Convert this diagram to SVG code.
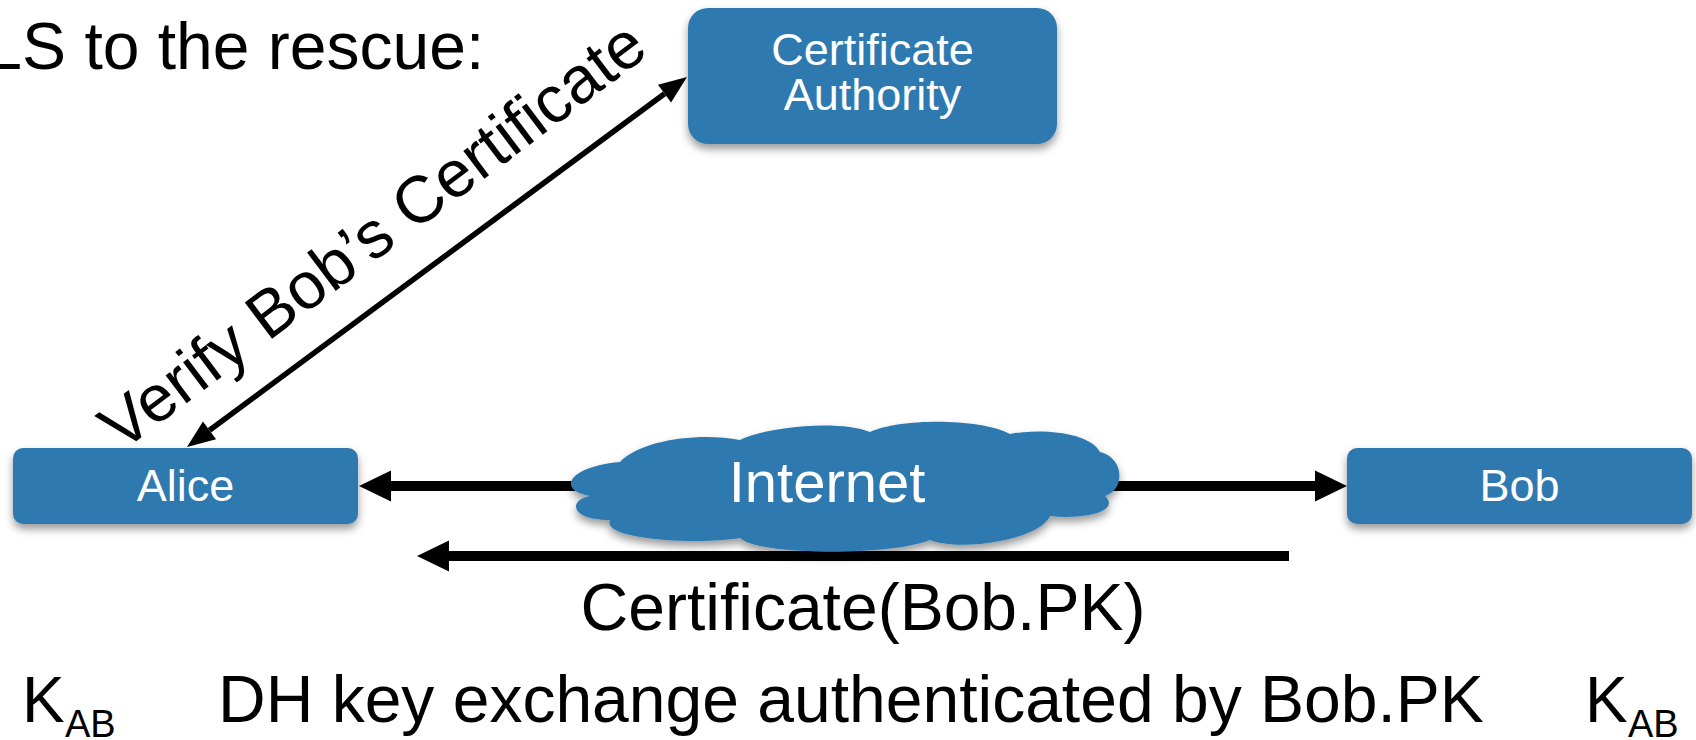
<svg xmlns="http://www.w3.org/2000/svg" width="1696" height="740" viewBox="0 0 1696 740">
  <style>
    .box { fill: #2e7ab0; filter: url(#shadow); }
    .wt { fill: #ffffff; font-family: "Liberation Sans", Arial, sans-serif; font-size: 45px; text-anchor: middle; }
    .bt { fill: #000000; font-family: "Liberation Sans", Arial, sans-serif; font-size: 66px; }
    .thick { fill: none; stroke: #000; stroke-width: 10; }
    .thin { fill: none; stroke: #000; stroke-width: 5.5; }
  </style>
  <defs>
    <filter id="shadow" x="-10%" y="-20%" width="120%" height="150%">
      <feDropShadow dx="0" dy="5" stdDeviation="4" flood-color="#000" flood-opacity="0.4"/>
    </filter>
    <marker id="bigHead" markerUnits="userSpaceOnUse" orient="auto" refX="0" refY="0" markerWidth="40" markerHeight="40" overflow="visible">
      <path d="M0,-15.5 L32,0 L0,15.5 Z" fill="#000"/>
    </marker>
    <marker id="smallHead" markerUnits="userSpaceOnUse" orient="auto-start-reverse" refX="0" refY="0" markerWidth="40" markerHeight="40" overflow="visible">
      <path d="M0,-11 L28,0 L0,11 Z" fill="#000"/>
    </marker>
  </defs>

  <rect width="1696" height="740" fill="#ffffff"/>

  <text class="bt" x="-55" y="69">TLS to the rescue:</text>

  <g id="connectors">
    <path class="thick" d="M600,486 L391,486" marker-end="url(#bigHead)"/>
    <path class="thick" d="M1090,486 L1315,486" marker-end="url(#bigHead)"/>
    <path class="thick" d="M1289,556 L449,556" marker-end="url(#bigHead)"/>
    <path class="thin" d="M209.5,430.3 L664.5,93.7" marker-start="url(#smallHead)" marker-end="url(#smallHead)"/>
    <text class="bt" x="386" y="253" text-anchor="middle" transform="rotate(-37 386 253)">Verify Bob’s Certificate</text>
    <text class="bt" x="863" y="630" text-anchor="middle">Certificate(Bob.PK)</text>
  </g>

  <g id="ca">
    <rect class="box" x="688" y="8" width="369" height="136" rx="20"/>
    <text class="wt" x="872.5" y="65">Certificate</text>
    <text class="wt" x="872.5" y="110">Authority</text>
  </g>

  <g id="alice">
    <rect class="box" x="13" y="448" width="345" height="76" rx="10"/>
    <text class="wt" x="185.5" y="501">Alice</text>
  </g>

  <g id="bob">
    <rect class="box" x="1347" y="448" width="345" height="76" rx="10"/>
    <text class="wt" x="1519.5" y="501">Bob</text>
  </g>

  <g id="internet">
    <path class="box" d="M620,462
      C640,440 700,432 740,440
      C770,426 840,420 870,432
      C900,418 980,418 1010,434
      C1040,428 1090,432 1100,452
      C1125,458 1125,490 1105,496
      C1120,510 1090,520 1050,516
      C1040,540 960,552 930,540
      C890,556 760,556 740,538
      C700,545 600,540 610,520
      C570,520 568,500 590,496
      C555,490 570,466 620,462 Z"/>
    <text class="wt" x="827" y="502" style="font-size:58px">Internet</text>
  </g>

  <g id="bottom-text">
    <text class="bt" x="22" y="722" style="font-size:64px">K</text>
    <text class="bt" x="65" y="737" style="font-size:38px">AB</text>
    <text class="bt" x="218" y="722">DH key exchange authenticated by Bob.PK</text>
    <text class="bt" x="1585" y="722" style="font-size:64px">K</text>
    <text class="bt" x="1628" y="737" style="font-size:38px">AB</text>
  </g>
</svg>
